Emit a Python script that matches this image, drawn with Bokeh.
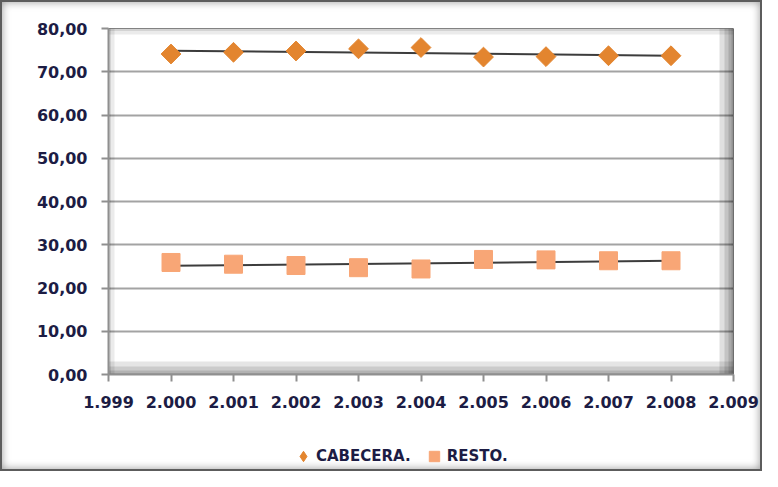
import numpy as np
from bokeh.plotting import figure
from bokeh.layouts import column
from bokeh.models import (Range1d, FixedTicker, Legend, LegendItem,
                          ColumnDataSource)
from bokeh.embed import file_html
from bokeh.resources import INLINE

# ---- data ----
years = [2000, 2001, 2002, 2003, 2004, 2005, 2006, 2007, 2008]
cabecera = [74.1, 74.5, 74.8, 75.3, 75.6, 73.4, 73.5, 73.7, 73.7]
resto = [25.9, 25.5, 25.2, 24.7, 24.4, 26.6, 26.5, 26.3, 26.3]
series_names = ["CABECERA.", "RESTO."]
x_ticks = [1999, 2000, 2001, 2002, 2003, 2004, 2005, 2006, 2007, 2008, 2009]
x_tick_labels = ["1.999", "2.000", "2.001", "2.002", "2.003", "2.004",
                 "2.005", "2.006", "2.007", "2.008", "2.009"]
y_ticks = [0, 10, 20, 30, 40, 50, 60, 70, 80]
y_tick_labels = ["0,00", "10,00", "20,00", "30,00", "40,00", "50,00",
                 "60,00", "70,00", "80,00"]

FONT = "DejaVu Sans"
TXT = "#1c1c44"
GRAY = "#8f8f8f"
CAB_COLOR = "#e3852f"
RES_COLOR = "#f8a676"

p = figure(width=758, height=418, output_backend="svg", toolbar_location=None,
           x_range=Range1d(x_ticks[0], x_ticks[-1]),
           y_range=Range1d(y_ticks[0], y_ticks[-1]),
           min_border_left=106, min_border_right=27,
           min_border_top=26, min_border_bottom=46)
p.border_fill_alpha = 0
p.background_fill_color = "white"
p.outline_line_color = GRAY
p.outline_line_width = 1

# axes
p.xaxis.ticker = FixedTicker(ticks=x_ticks)
p.xaxis.major_label_overrides = {t: l for t, l in zip(x_ticks, x_tick_labels)}
p.yaxis.ticker = FixedTicker(ticks=y_ticks)
p.yaxis.major_label_overrides = {t: l for t, l in zip(y_ticks, y_tick_labels)}
for ax in (p.xaxis, p.yaxis):
    ax.axis_line_color = GRAY
    ax.axis_line_width = 2
    ax.major_tick_line_color = GRAY
    ax.major_tick_line_width = 2
    ax.major_tick_out = 7
    ax.major_tick_in = 0
    ax.minor_tick_line_color = None
    ax.major_label_text_font = FONT
    ax.major_label_text_font_style = "bold"
    ax.major_label_text_font_size = "16px"
    ax.major_label_text_color = TXT
    ax.major_label_standoff = 14

p.xgrid.grid_line_color = None
p.ygrid.grid_line_color = "#a3a3a3"
p.ygrid.grid_line_width = 2

# soft inner shadow of the plot area (span glyphs at the range limits,
# clipped to the plot area so only the inner half shows)
for w, a in ((28, 0.12), (18, 0.12), (10, 0.13), (4, 0.14)):
    p.vspan(x=[x_ticks[-1]], line_color="black", line_width=w, line_alpha=a)
for w, a in ((26, 0.10), (16, 0.11), (8, 0.12), (3, 0.12)):
    p.hspan(y=[y_ticks[0]], line_color="black", line_width=w, line_alpha=a)
for w, a in ((12, 0.08), (5, 0.10)):
    p.hspan(y=[y_ticks[-1]], line_color="black", line_width=w, line_alpha=a)
    p.vspan(x=[x_ticks[0]], line_color="black", line_width=w, line_alpha=a)

src = ColumnDataSource(dict(x=years, cab=cabecera, res=resto))

# linear trend lines (as in the original spreadsheet chart)
xs = np.array(years, dtype=float)
for vals in (cabecera, resto):
    m, b = np.polyfit(xs, np.array(vals), 1)
    p.line([xs[0], xs[-1]], [m * xs[0] + b, m * xs[-1] + b],
           line_color="#1a1a1a", line_width=2, line_alpha=0.85)

p.scatter("x", "cab", source=src, marker="square", angle=np.pi / 4,
          size=14, fill_color=CAB_COLOR, line_color=CAB_COLOR)
p.scatter("x", "res", source=src, marker="square", size=18,
          fill_color=RES_COLOR, line_color=RES_COLOR)

# legend strip underneath; its scatter renderers use the same data but the
# strip's ranges keep them out of view, so only the legend shows
p2 = figure(width=758, height=49, output_backend="svg", toolbar_location=None,
            x_axis_type=None, y_axis_type=None,
            x_range=Range1d(0, 1), y_range=Range1d(0, 1),
            min_border_left=0, min_border_right=0,
            min_border_top=0, min_border_bottom=0)
p2.border_fill_alpha = 0
p2.background_fill_alpha = 0
p2.outline_line_color = None
l_cab = p2.scatter("x", "cab", source=src, marker="diamond",
                   size=14, fill_color=CAB_COLOR, line_color=CAB_COLOR)
l_res = p2.scatter("x", "res", source=src, marker="square", size=18,
                   fill_color=RES_COLOR, line_color=RES_COLOR)
legend = Legend(items=[LegendItem(label=series_names[0], renderers=[l_cab]),
                       LegendItem(label=series_names[1], renderers=[l_res])],
                location=(182, 0), orientation="horizontal",
                label_text_font=FONT, label_text_font_style="bold",
                label_text_font_size="15px", label_text_color=TXT,
                glyph_width=26, glyph_height=26, label_standoff=0,
                spacing=10, padding=0, margin=0,
                border_line_color=None, background_fill_alpha=0)
p2.add_layout(legend, "center")

root = column(p, p2, spacing=0)
root.styles = {"border": "2px solid #5c5c5c",
               "box-shadow": "inset 0 0 9px rgba(0,0,0,0.40)",
               "background-color": "white"}

open("out.html", "w").write(file_html(root, INLINE))
